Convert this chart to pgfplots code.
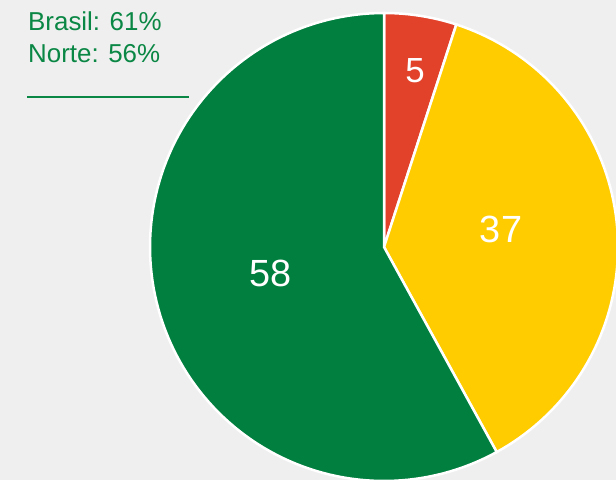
\documentclass[border=0pt]{standalone}
\usepackage{pgfplots}
\usepackage{pgfplotstable}
\pgfplotsset{compat=1.18}
\usepackage{fontspec}
\setmainfont{Liberation Sans}
\definecolor{bg}{HTML}{EFEFEF}
\definecolor{pieRed}{HTML}{E2412A}
\definecolor{pieYellow}{HTML}{FFCC00}
\definecolor{pieGreen}{HTML}{007F3F}
\definecolor{txtGreen}{HTML}{0A8744}
\pgfplotstableread{
idx value
1 5
2 37
3 58
}\piedata
\begin{document}
\begin{tikzpicture}
\pgfplotstablegetelem{0}{value}\of\piedata \let\va\pgfplotsretval
\pgfplotstablegetelem{1}{value}\of\piedata \let\vb\pgfplotsretval
\pgfplotstablegetelem{2}{value}\of\piedata \let\vc\pgfplotsretval
\pgfmathsetmacro{\aA}{90}
\pgfmathsetmacro{\aB}{\aA-3.6*\va}
\pgfmathsetmacro{\aC}{\aB-3.6*\vb}
\pgfmathsetmacro{\aD}{\aC-3.6*\vc}
\useasboundingbox (0,0) rectangle (616bp,480bp);
\fill[bg] (0,0) rectangle (616bp,480bp);
\begin{axis}[
  at={(0,0)}, anchor=origin,
  scale only axis, width=616bp, height=480bp,
  xmin=0, xmax=616, ymin=0, ymax=480,
  hide axis, clip=true,
]
\addplot[fill=pieRed, draw=white, line width=2.5bp, domain=\aB:\aA, samples=40, variable=\t]
  ({384+234*cos(\t)},{233+234*sin(\t)}) -- (axis cs:384,233) -- cycle;
\addplot[fill=pieYellow, draw=white, line width=2.5bp, domain=\aC:\aB, samples=80, variable=\t]
  ({384+234*cos(\t)},{233+234*sin(\t)}) -- (axis cs:384,233) -- cycle;
\addplot[fill=pieGreen, draw=white, line width=2.5bp, domain=\aD:\aC, samples=120, variable=\t]
  ({384+234*cos(\t)},{233+234*sin(\t)}) -- (axis cs:384,233) -- cycle;
\node[text=white, font=\fontsize{35}{38}\selectfont] at (axis cs:415,409) {\va};
\node[text=white, font=\fontsize{38}{42}\selectfont] at (axis cs:501,251) {\vb};
\node[text=white, font=\fontsize{38}{42}\selectfont] at (axis cs:271,207) {\vc};
\node[anchor=base west, inner sep=0pt, text=txtGreen, font=\fontsize{26}{30}\selectfont] at (axis cs:28,450) {Brasil: 61\%};
\node[anchor=base west, inner sep=0pt, text=txtGreen, font=\fontsize{26}{30}\selectfont] at (axis cs:28,418) {Norte: 56\%};
\draw[txtGreen, line width=1.5bp] (axis cs:27,383) -- (axis cs:189,383);
\end{axis}
\end{tikzpicture}
\end{document}
